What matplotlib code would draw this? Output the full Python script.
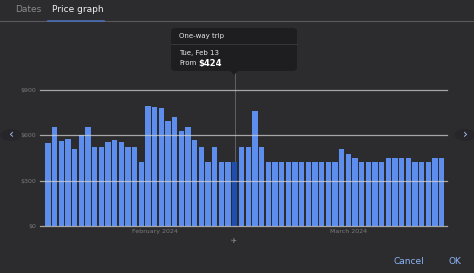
import numpy as np
import matplotlib.pyplot as plt
from matplotlib.patches import FancyBboxPatch, Circle, Polygon

# daily one-way fares, Jan 16 .. Mar 15 2024
prices = [552, 658, 563, 577, 508, 603, 652, 524, 524, 555,
          572, 555, 524, 524, 424, 796, 787, 778, 692, 723,
          628, 652, 572, 524, 424, 524, 424, 424, 424, 524,
          524, 762, 524, 424, 424, 424, 424, 424, 424, 424,
          424, 424, 424, 424, 508, 477, 447, 424, 424, 424,
          424, 447, 447, 447, 447, 424, 424, 424, 447, 447]
selected = 28  # Tue, Feb 13
month_pos = [16, 45]
month_labels = ["February 2024", "March 2024"]
yticks = [0, 300, 600, 900]
ytick_labels = ["$0", "$300", "$600", "$900"]

W, H = 474, 273
bg = "#2c2c2e"
fig = plt.figure(figsize=(W / 100, H / 100), dpi=100, facecolor=bg)


def fx(px):
    return px / W


def fy(py):
    return 1 - py / H


# tabs
fig.text(fx(15), fy(10), "Dates", color="#8a8a8e", fontsize=6.5, va="center")
fig.text(fx(52), fy(10), "Price graph", color="#f0f0f0", fontsize=6.5, va="center")
fig.add_artist(plt.Line2D([0, 1], [fy(21), fy(21)], color="#5a5a5e", lw=0.8))
fig.add_artist(plt.Line2D([fx(48), fx(104)], [fy(20.5), fy(20.5)], color="#4a6fb5", lw=1.2))

ax = fig.add_axes([fx(40), fy(226), fx(447) - fx(40), fy(90) - fy(226)])
ax.set_facecolor(bg)
x = np.arange(len(prices))
colors = ["#1f4fae" if i == selected else "#5d8eee" for i in x]
ax.bar(x, prices, width=0.8, color=colors, zorder=2)
ax.set_xlim(-1.2, 59.8)
ax.set_ylim(0, 900)
for v in yticks:
    ax.axhline(v, color="#d0d0d0", lw=0.9, alpha=0.75, zorder=3, clip_on=False)
ax.axvline(selected, ymin=0, ymax=1.13, color="#6a6a6e", lw=0.6, zorder=1, clip_on=False)
for s in ax.spines.values():
    s.set_visible(False)
ax.set_yticks(yticks)
ax.set_yticklabels(ytick_labels)
ax.tick_params(axis="y", length=0, pad=3, labelsize=4.5, labelcolor="#7a7a7e")
ax.set_xticks(month_pos)
ax.set_xticklabels(month_labels)
ax.tick_params(axis="x", length=0, pad=2, labelsize=4.5, labelcolor="#7a7a7e")

# tooltip
tip = FancyBboxPatch((fx(171), fy(71)), fx(297) - fx(171), fy(28) - fy(71),
                     boxstyle="round,pad=0,rounding_size=0.012",
                     transform=fig.transFigure, facecolor="#1e1e20", edgecolor="none")
fig.add_artist(tip)
fig.add_artist(Polygon([[fx(230), fy(71)], [fx(238), fy(71)], [fx(234), fy(75)]],
                       closed=True, transform=fig.transFigure, facecolor="#1e1e20", edgecolor="none"))
fig.add_artist(plt.Line2D([fx(171), fx(297)], [fy(44), fy(44)], color="#3c3c40", lw=0.6))
fig.text(fx(179), fy(36), "One-way trip", color="#e8e8e8", fontsize=5, va="center")
fig.text(fx(179), fy(53), "Tue, Feb 13", color="#e8e8e8", fontsize=5, va="center")
fig.text(fx(179), fy(63), "From", color="#e8e8e8", fontsize=5, va="center")
fig.text(fx(198), fy(63), "$424", color="#ffffff", fontsize=6, va="center", weight="bold")

# nav arrows
for cx, ch in [(11, "‹"), (465, "›")]:
    fig.add_artist(Circle((fx(cx), fy(135)), 0.022, transform=fig.transFigure,
                          facecolor="#26262a", edgecolor="none"))
    fig.text(fx(cx), fy(134), ch, color="#a8c0f0", fontsize=9, ha="center", va="center")

# small flight icon under the selected bar
fig.text(fx(234), fy(241), "✈", color="#8a8a8e", fontsize=5, ha="center", va="center")

# buttons
fig.text(fx(409), fy(261), "Cancel", color="#8ab4f8", fontsize=6.5, ha="center", va="center")
fig.text(fx(455), fy(261), "OK", color="#8ab4f8", fontsize=6.5, ha="center", va="center")

plt.savefig("out.png", dpi=100, facecolor=bg)
